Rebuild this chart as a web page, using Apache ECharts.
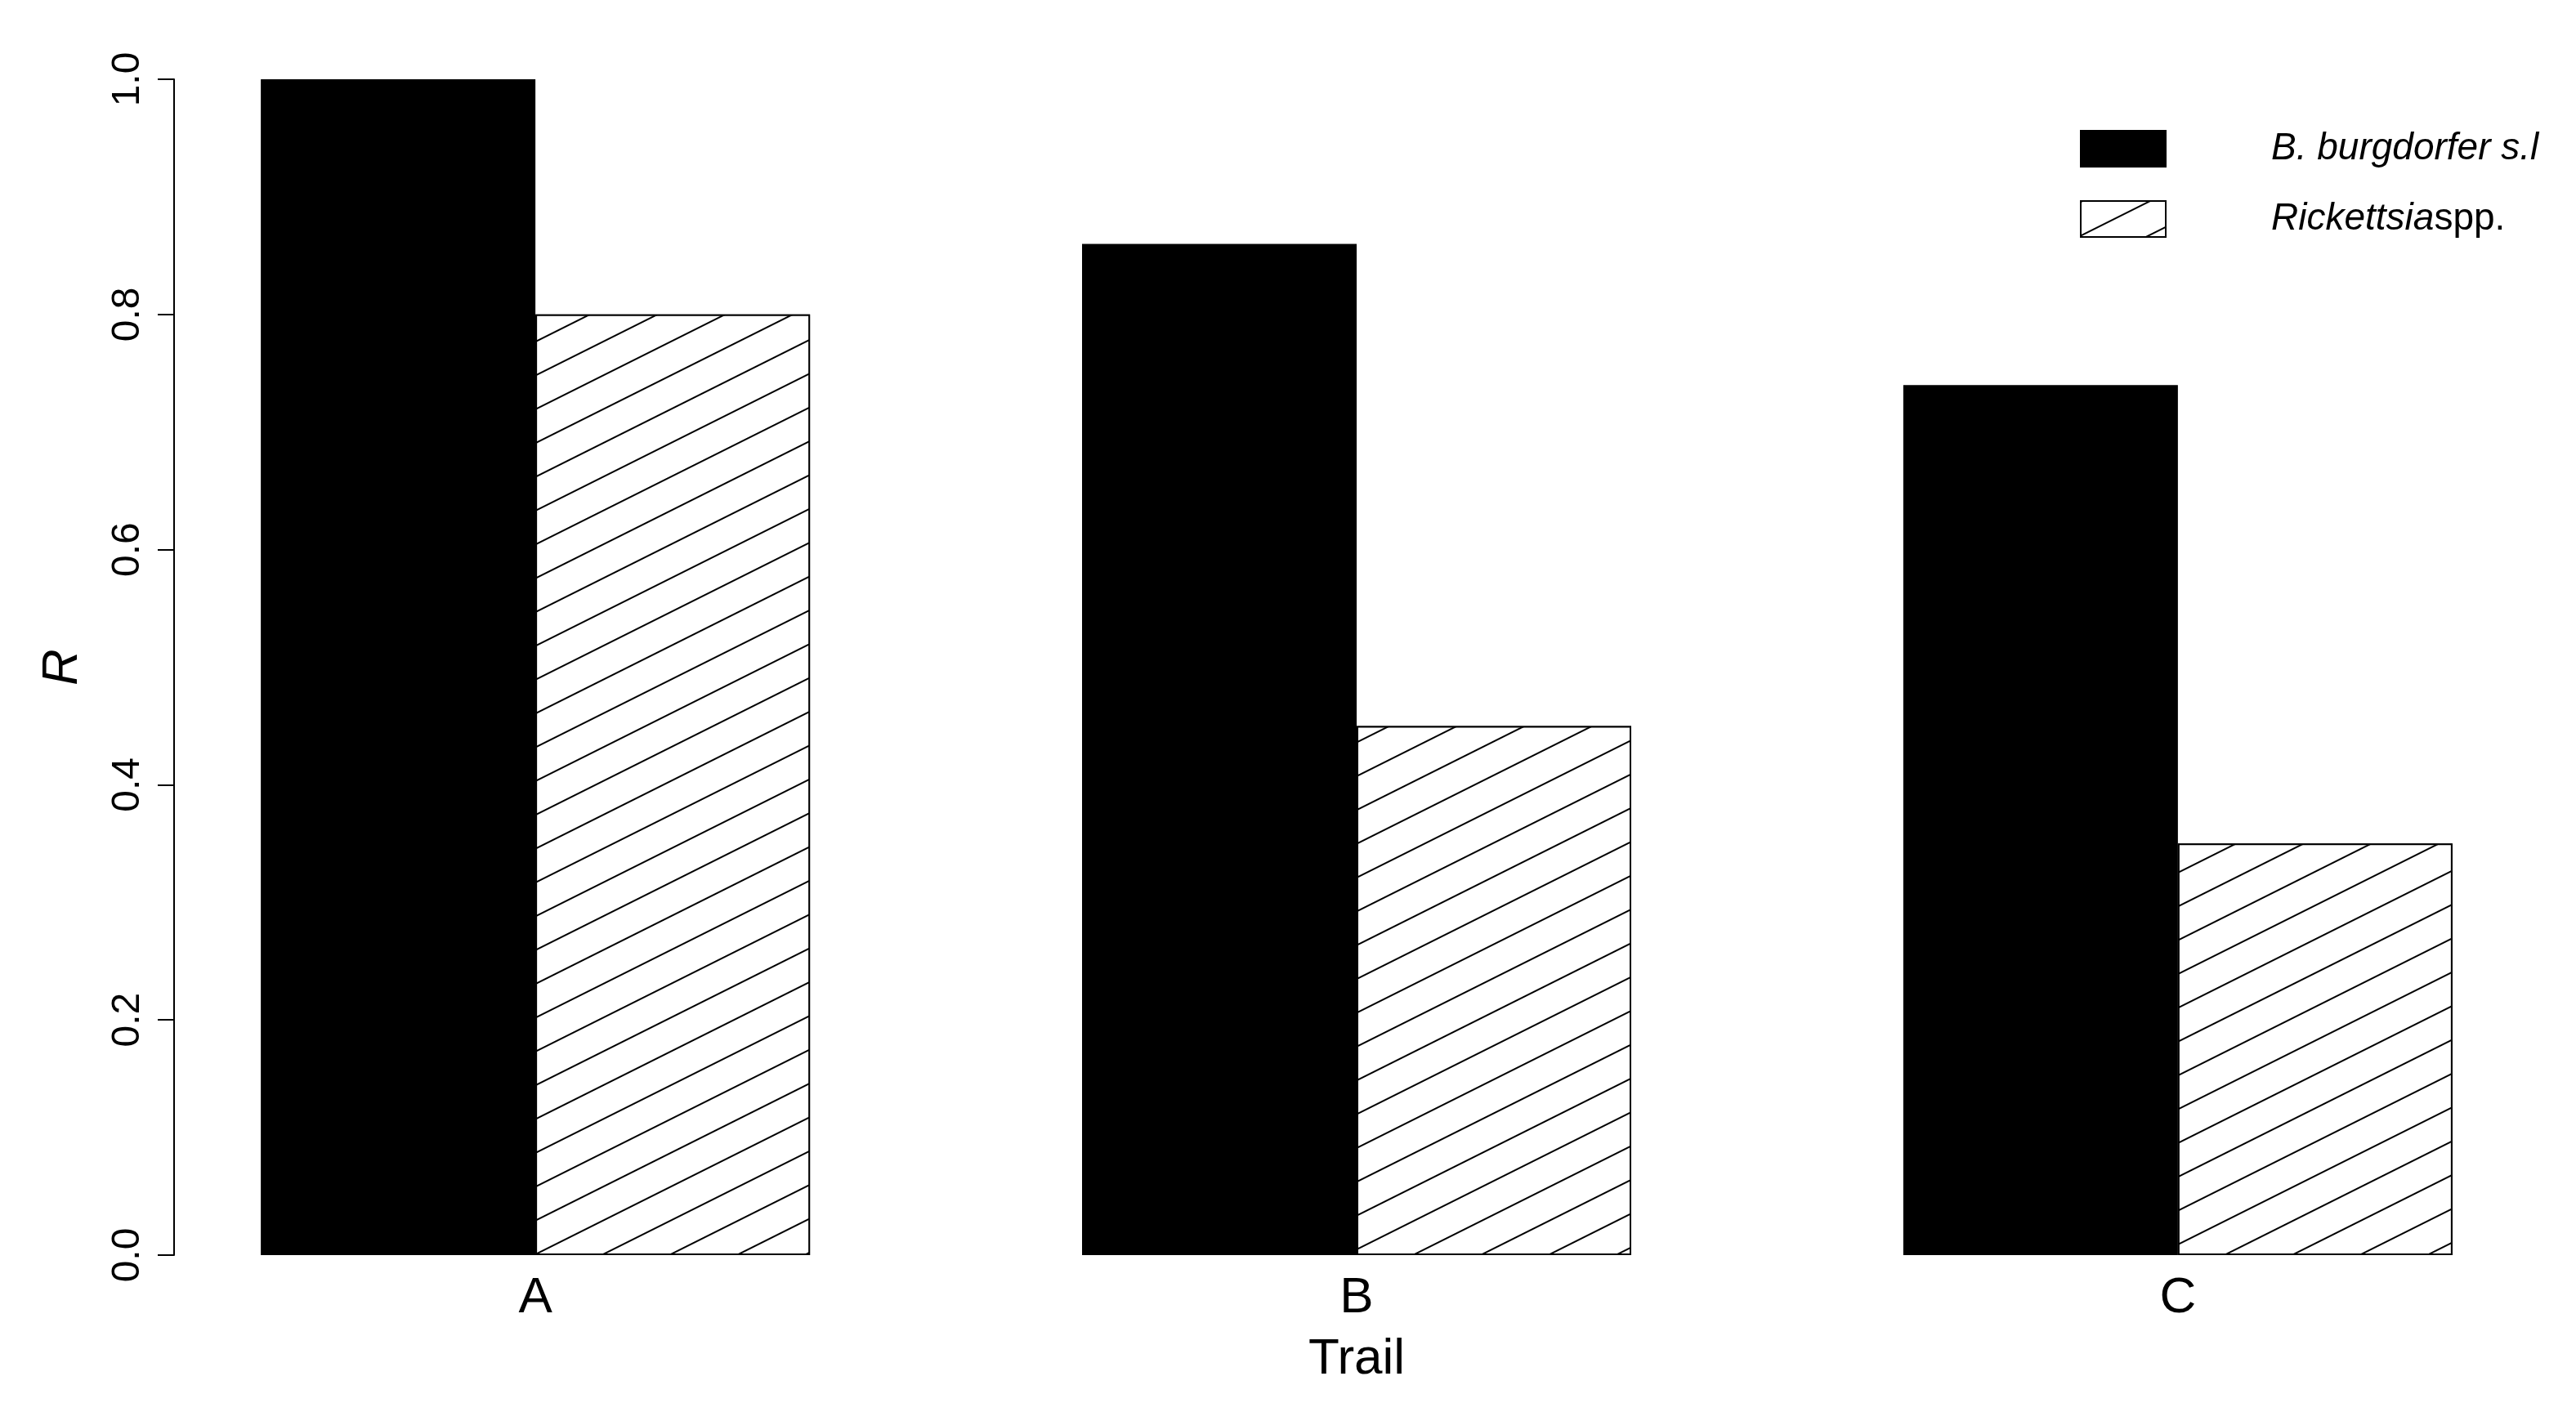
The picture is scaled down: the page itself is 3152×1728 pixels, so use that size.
<!DOCTYPE html>
<html>
<head>
<meta charset="utf-8">
<script src="https://cdn.jsdelivr.net/npm/echarts@6/dist/echarts.min.js"></script>
<style>
html,body{margin:0;padding:0;background:#fff;}
#chart{width:3152px;height:1728px;}
</style>
</head>
<body>
<div id="chart"></div>
<script>
const categories = ['A', 'B', 'C'];
const borreliaValues = [1.0, 0.86, 0.74];
const rickettsiaValues = [0.8, 0.45, 0.35];
const yTicks = [0, 0.2, 0.4, 0.6, 0.8, 1.0];
const seriesNames = ['B. burgdorfer s.l', 'Rickettsiaspp.'];

const FONT = 'Liberation Sans, Arial, Helvetica, sans-serif';
const chart = echarts.init(document.getElementById('chart'), null, {renderer: 'canvas'});

// categories are placed at their index on a numeric base axis
const catIdx = categories.map((c, i) => i);
const toPairs = vals => vals.map((v, i) => [catIdx[i], v]);

const option = {
  backgroundColor: '#ffffff',
  animation: false,
  textStyle: {fontFamily: FONT, color: '#000'},
  grid: {left: 213, top: 97, width: 2894, height: 1439},
  legend: {
    orient: 'vertical',
    left: 2545,
    top: 159,
    padding: 0,
    itemWidth: 104,
    itemHeight: 44,
    itemGap: 40,
    icon: 'rect',
    data: seriesNames,
    formatter: function (name) {
      if (name === seriesNames[0]) return '{sp|}{it|B. burgdorfer s.l}';
      return '{sp|}{it|Rickettsia}{up|spp.}';
    },
    textStyle: {
      fontFamily: FONT,
      color: '#000',
      rich: {
        sp: {width: 124},
        it: {fontStyle: 'italic', fontSize: 46, fontFamily: FONT, color: '#000'},
        up: {fontSize: 46, fontFamily: FONT, color: '#000'}
      }
    }
  },
  xAxis: {
    type: 'value',
    min: -0.44,
    max: 2.44,
    axisLine: {show: false},
    axisTick: {show: false},
    axisLabel: {
      fontSize: 62, color: '#000', margin: 22, fontFamily: FONT,
      customValues: catIdx,
      formatter: function (v) { return categories[Math.round(v)]; }
    },
    name: 'Trail',
    nameLocation: 'middle',
    nameGap: 97,
    nameTextStyle: {fontSize: 62, color: '#000', fontFamily: FONT},
    splitLine: {show: false}
  },
  yAxis: {
    type: 'value',
    min: 0,
    max: 1,
    interval: 0.2,
    axisLine: {show: true, onZero: false, lineStyle: {color: '#000', width: 2}},
    axisTick: {show: true, length: 20, lineStyle: {color: '#000', width: 2}},
    axisLabel: {
      fontSize: 48, color: '#000', rotate: 90, margin: 32, fontFamily: FONT,
      formatter: function (v) { return yTicks.some(t => Math.abs(t - v) < 1e-9) ? v.toFixed(1) : ''; }
    },
    splitLine: {show: false},
    name: 'R',
    nameLocation: 'middle',
    nameRotate: 90,
    nameGap: 105,
    nameTextStyle: {fontSize: 62, fontStyle: 'italic', color: '#000', fontFamily: FONT}
  },
  series: [
    {
      name: seriesNames[0],
      type: 'bar',
      data: toPairs(borreliaValues),
      barWidth: 336,
      barGap: '0%',
      itemStyle: {color: '#000', borderColor: '#000', borderWidth: 1.5}
    },
    {
      name: seriesNames[1],
      type: 'bar',
      data: toPairs(rickettsiaValues),
      barWidth: 336,
      barGap: '0%',
      itemStyle: {
        color: '#fff',
        borderColor: '#000',
        borderWidth: 2,
        decal: {
          symbol: 'rect',
          symbolSize: 1,
          color: '#000',
          backgroundColor: '#fff',
          dashArrayX: [[200, 0]],
          dashArrayY: [2, 35],
          rotation: -Math.atan(0.5)
        }
      }
    }
  ]
};
chart.setOption(option);
</script>
</body>
</html>
